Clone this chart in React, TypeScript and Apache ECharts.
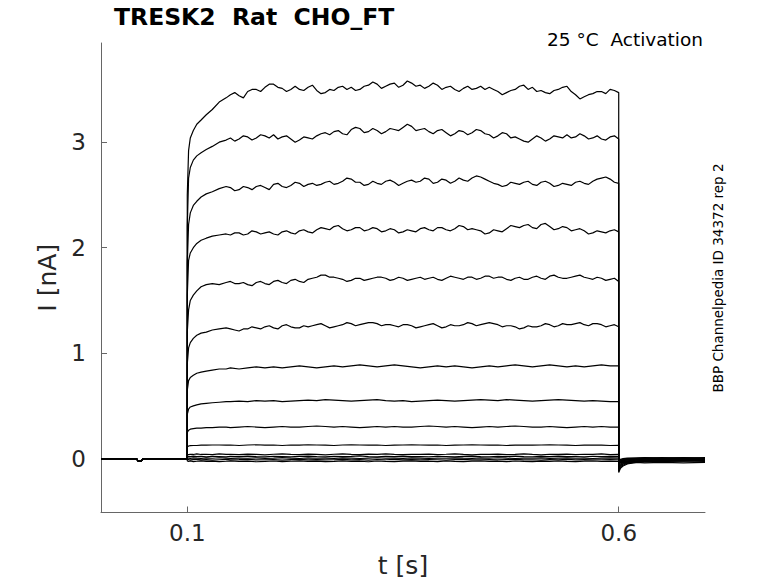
import React, { useEffect, useRef } from "react";
import * as echarts from "echarts";

const FONT = "DejaVu Sans";

// time grids [s]
const T_PRE = [0, 0.041, 0.043, 0.047, 0.049, 0.1];
const I_PRE = [0, 0, -0.02, -0.02, 0, 0];
const T_ON = [
  0.1, 0.1015, 0.1035, 0.107, 0.111, 0.116, 0.122, 0.129, 0.137, 0.145,
  0.15, 0.16, 0.17, 0.18, 0.19, 0.2, 0.21, 0.22, 0.23, 0.24,
  0.25, 0.26, 0.27, 0.28, 0.29, 0.3, 0.31, 0.32, 0.33, 0.34,
  0.35, 0.36, 0.37, 0.38, 0.39, 0.4, 0.41, 0.42, 0.43, 0.44,
  0.45, 0.46, 0.47, 0.48, 0.49, 0.5, 0.51, 0.52, 0.53, 0.54,
  0.55, 0.56, 0.57, 0.58, 0.59, 0.6,
];
// extra in-between samples for the noisier (larger) traces
const T_MID = [
  0.155, 0.165, 0.175, 0.185, 0.195, 0.205, 0.215, 0.225, 0.235, 0.245,
  0.255, 0.265, 0.275, 0.285, 0.295, 0.305, 0.315, 0.325, 0.335, 0.345,
  0.355, 0.365, 0.375, 0.385, 0.395, 0.405, 0.415, 0.425, 0.435, 0.445,
  0.455, 0.465, 0.475, 0.485, 0.495, 0.505, 0.515, 0.525, 0.535, 0.545,
  0.555, 0.565, 0.575, 0.585, 0.595,
];
const T_OFF = [0.6, 0.602, 0.605, 0.61, 0.62, 0.63, 0.65, 0.675, 0.7];

// currents [nA] during the step
const ON_1 = [
  2.5, 2.92, 3.04, 3.11, 3.17, 3.21, 3.26, 3.31, 3.38, 3.42,
  3.45, 3.44, 3.48, 3.5, 3.52, 3.55, 3.51, 3.5, 3.5, 3.52,
  3.49, 3.47, 3.49, 3.53, 3.52, 3.5, 3.54, 3.55, 3.53, 3.56,
  3.54, 3.56, 3.54, 3.53, 3.54, 3.52, 3.5, 3.51, 3.5, 3.53,
  3.52, 3.48, 3.47, 3.5, 3.54, 3.52, 3.49, 3.46, 3.5, 3.53,
  3.45, 3.43, 3.46, 3.48, 3.5, 3.47,
];
const MID_1 = [
  3.47, 3.42, 3.5, 3.48, 3.55, 3.52, 3.48, 3.53, 3.49, 3.54,
  3.46, 3.5, 3.52, 3.5, 3.49, 3.53, 3.57, 3.51, 3.55, 3.52,
  3.58, 3.53, 3.51, 3.56, 3.5, 3.53, 3.48, 3.53, 3.51, 3.5,
  3.5, 3.45, 3.49, 3.53, 3.5, 3.48, 3.47, 3.49, 3.52, 3.48,
  3.41, 3.45, 3.48, 3.46, 3.49,
];
const ON_2 = [
  2.2, 2.66, 2.76, 2.83, 2.87, 2.9, 2.93, 2.96, 3.0, 3.02,
  3.04, 3.03, 3.05, 3.04, 3.06, 3.07, 3.05, 3.03, 3.02, 3.04,
  3.06, 3.09, 3.1, 3.08, 3.12, 3.13, 3.1, 3.11, 3.1, 3.12,
  3.14, 3.15, 3.12, 3.1, 3.11, 3.09, 3.08, 3.1, 3.09, 3.11,
  3.07, 3.06, 3.08, 3.05, 3.01, 3.03, 3.04, 3.03, 3.05, 3.07,
  3.05, 3.06, 3.04, 3.03, 3.05, 3.03,
];
const MID_2 = [
  3.01, 3.06, 3.02, 3.07, 3.04, 3.03, 3.06, 3.0, 3.05, 3.03,
  3.08, 3.07, 3.11, 3.07, 3.14, 3.09, 3.13, 3.08, 3.13, 3.11,
  3.17, 3.11, 3.13, 3.08, 3.12, 3.06, 3.11, 3.07, 3.12, 3.08,
  3.04, 3.09, 3.04, 3.03, 3.0, 3.06, 3.01, 3.06, 3.04, 3.04,
  3.08, 3.03, 3.06, 3.02, 3.06,
];
const ON_3 = [
  1.85, 2.22, 2.33, 2.4, 2.44, 2.48, 2.51, 2.53, 2.56, 2.58,
  2.57, 2.55, 2.57, 2.58, 2.57, 2.6, 2.58, 2.59, 2.61, 2.6,
  2.59, 2.62, 2.6, 2.63, 2.65, 2.62, 2.6, 2.61, 2.63, 2.62,
  2.61, 2.64, 2.63, 2.65, 2.62, 2.64, 2.63, 2.64, 2.66, 2.67,
  2.63, 2.6, 2.59, 2.61, 2.62, 2.6, 2.62, 2.61, 2.59, 2.6,
  2.62, 2.61, 2.63, 2.66, 2.65, 2.61,
];
const MID_3 = [
  2.54, 2.58, 2.55, 2.59, 2.55, 2.61, 2.57, 2.62, 2.58, 2.61,
  2.6, 2.63, 2.61, 2.66, 2.62, 2.59, 2.63, 2.6, 2.64, 2.59,
  2.63, 2.62, 2.66, 2.61, 2.65, 2.61, 2.66, 2.63, 2.68, 2.65,
  2.61, 2.58, 2.62, 2.6, 2.63, 2.59, 2.63, 2.58, 2.61, 2.59,
  2.63, 2.6, 2.65, 2.67, 2.62,
];
const ON_4 = [
  1.55, 1.88, 1.95, 2.0, 2.04, 2.07, 2.09, 2.11, 2.12, 2.13,
  2.12, 2.14, 2.13, 2.15, 2.14, 2.13, 2.15, 2.14, 2.16, 2.15,
  2.17, 2.18, 2.2, 2.18, 2.17, 2.19, 2.17, 2.18, 2.16, 2.17,
  2.15, 2.16, 2.18, 2.17, 2.19, 2.17, 2.18, 2.2, 2.18, 2.16,
  2.14, 2.16, 2.18, 2.2, 2.21, 2.19, 2.22, 2.2, 2.18, 2.19,
  2.17, 2.16, 2.14, 2.15, 2.16, 2.15,
];
const MID_4 = [
  2.14, 2.12, 2.16, 2.13, 2.15, 2.12, 2.16, 2.13, 2.17, 2.14,
  2.19, 2.17, 2.21, 2.16, 2.19, 2.16, 2.19, 2.15, 2.18, 2.14,
  2.17, 2.15, 2.19, 2.16, 2.19, 2.16, 2.21, 2.17, 2.17, 2.13,
  2.17, 2.15, 2.21, 2.19, 2.22, 2.18, 2.23, 2.17, 2.2, 2.16,
  2.18, 2.13, 2.16, 2.14, 2.17,
];
const ON_5 = [
  1.2, 1.41, 1.5, 1.55, 1.59, 1.63, 1.65, 1.66, 1.65, 1.67,
  1.68, 1.66, 1.65, 1.67, 1.66, 1.68, 1.67, 1.69, 1.68, 1.7,
  1.72, 1.74, 1.72, 1.7, 1.69, 1.71, 1.7, 1.72, 1.71, 1.7,
  1.71, 1.7, 1.72, 1.71, 1.7, 1.71, 1.72, 1.7, 1.72, 1.71,
  1.73, 1.72, 1.7, 1.71, 1.7, 1.72, 1.71, 1.73, 1.72, 1.71,
  1.73, 1.72, 1.7, 1.71, 1.7, 1.68,
];
const MID_5 = [
  1.66, 1.67, 1.64, 1.68, 1.65, 1.69, 1.66, 1.7, 1.67, 1.71,
  1.74, 1.72, 1.71, 1.68, 1.71, 1.69, 1.71, 1.72, 1.69, 1.72,
  1.69, 1.71, 1.7, 1.72, 1.69, 1.73, 1.71, 1.72, 1.7, 1.73,
  1.71, 1.72, 1.69, 1.72, 1.7, 1.73, 1.7, 1.74, 1.71, 1.72,
  1.74, 1.71, 1.72, 1.69, 1.71,
];
const ON_6 = [
  0.9, 1.05, 1.1, 1.14, 1.17, 1.19, 1.2, 1.22, 1.23, 1.24,
  1.23, 1.21, 1.23, 1.24, 1.25, 1.24, 1.26, 1.25, 1.24, 1.25,
  1.27, 1.26, 1.25, 1.27, 1.28, 1.27, 1.29, 1.28, 1.27, 1.26,
  1.27, 1.26, 1.25, 1.27, 1.26, 1.25, 1.26, 1.27, 1.28, 1.27,
  1.29, 1.27, 1.26, 1.25, 1.24, 1.25, 1.26, 1.27, 1.26, 1.27,
  1.28, 1.27, 1.28, 1.27, 1.26, 1.25,
];
const MID_6 = [
  1.22, 1.23, 1.25, 1.23, 1.26, 1.23, 1.27, 1.24, 1.26, 1.26,
  1.28, 1.24, 1.26, 1.29, 1.26, 1.28, 1.29, 1.26, 1.27, 1.25,
  1.27, 1.24, 1.26, 1.28, 1.24, 1.27, 1.26, 1.29, 1.26, 1.28,
  1.28, 1.25, 1.26, 1.23, 1.26, 1.25, 1.28, 1.25, 1.28, 1.27,
  1.29, 1.26, 1.28, 1.25, 1.27,
];
const ON_7 = [
  0.65, 0.74, 0.77, 0.79, 0.81, 0.82, 0.83, 0.84, 0.85, 0.85,
  0.86, 0.85, 0.86, 0.87, 0.86, 0.87, 0.86, 0.87, 0.88, 0.87,
  0.86, 0.87, 0.88, 0.87, 0.88, 0.89, 0.88, 0.87, 0.88, 0.89,
  0.88, 0.87, 0.86, 0.87, 0.88, 0.87, 0.88, 0.87, 0.86, 0.87,
  0.88, 0.87, 0.88, 0.89, 0.88, 0.87, 0.88, 0.89, 0.88, 0.87,
  0.88, 0.87, 0.88, 0.89, 0.88, 0.88,
];
const ON_8 = [
  0.42, 0.47, 0.49, 0.5, 0.51, 0.52, 0.525, 0.53, 0.535, 0.54,
  0.54, 0.545, 0.54, 0.55, 0.545, 0.55, 0.54, 0.545, 0.55, 0.555,
  0.55, 0.56, 0.555, 0.55, 0.545, 0.55, 0.555, 0.56, 0.55, 0.545,
  0.55, 0.54, 0.545, 0.55, 0.555, 0.55, 0.545, 0.55, 0.555, 0.56,
  0.555, 0.55, 0.56, 0.555, 0.55, 0.545, 0.55, 0.555, 0.56, 0.555,
  0.55, 0.545, 0.55, 0.545, 0.54, 0.54,
];
const ON_9 = [
  0.25, 0.27, 0.28, 0.285, 0.29, 0.29, 0.295, 0.295, 0.3, 0.3,
  0.295, 0.3, 0.305, 0.3, 0.295, 0.3, 0.305, 0.3, 0.3, 0.305,
  0.31, 0.305, 0.3, 0.305, 0.3, 0.295, 0.3, 0.305, 0.3, 0.305,
  0.3, 0.3, 0.305, 0.31, 0.305, 0.3, 0.305, 0.3, 0.295, 0.3,
  0.305, 0.3, 0.305, 0.31, 0.305, 0.3, 0.3, 0.305, 0.3, 0.295,
  0.3, 0.305, 0.3, 0.305, 0.3, 0.3,
];
const ON_10 = [
  0.11, 0.12, 0.123, 0.125, 0.125, 0.128, 0.128, 0.13, 0.13, 0.128,
  0.13, 0.125, 0.13, 0.132, 0.128, 0.13, 0.125, 0.13, 0.128, 0.132,
  0.13, 0.128, 0.125, 0.13, 0.132, 0.13, 0.128, 0.13, 0.125, 0.128,
  0.13, 0.132, 0.13, 0.128, 0.13, 0.125, 0.128, 0.13, 0.132, 0.13,
  0.128, 0.13, 0.125, 0.128, 0.13, 0.128, 0.13, 0.132, 0.13, 0.128,
  0.125, 0.128, 0.13, 0.128, 0.125, 0.126,
];
const ON_11 = [
  0.035, 0.04, 0.042, 0.04, 0.045, 0.04, 0.042, 0.038, 0.045, 0.04,
  0.042, 0.038, 0.044, 0.04, 0.036, 0.042, 0.046, 0.04, 0.038, 0.043,
  0.04, 0.037, 0.042, 0.045, 0.04, 0.038, 0.043, 0.04, 0.046, 0.041,
  0.038, 0.042, 0.04, 0.044, 0.039, 0.042, 0.046, 0.04, 0.037, 0.042,
  0.04, 0.044, 0.038, 0.041, 0.045, 0.04, 0.037, 0.042, 0.04, 0.044,
  0.039, 0.042, 0.04, 0.045, 0.038, 0.04,
];
const ON_12 = [
  0.018, 0.022, 0.02, 0.024, 0.019, 0.022, 0.018, 0.023, 0.02, 0.017,
  0.022, 0.019, 0.024, 0.02, 0.018, 0.023, 0.021, 0.017, 0.022, 0.025,
  0.02, 0.018, 0.023, 0.019, 0.022, 0.026, 0.02, 0.017, 0.022, 0.02,
  0.024, 0.019, 0.021, 0.018, 0.023, 0.02, 0.017, 0.022, 0.025, 0.02,
  0.018, 0.022, 0.019, 0.024, 0.02, 0.017, 0.022, 0.02, 0.024, 0.019,
  0.021, 0.018, 0.023, 0.02, 0.022, 0.02,
];
const ON_13 = [
  0.004, 0.006, 0.003, 0.008, 0.005, 0.002, 0.007, 0.004, 0.009, 0.005,
  0.002, 0.006, 0.004, 0.008, 0.003, 0.006, 0.01, 0.005, 0.002, 0.007,
  0.004, 0.006, 0.003, 0.008, 0.005, 0.002, 0.006, 0.009, 0.004, 0.006,
  0.003, 0.007, 0.005, 0.002, 0.006, 0.004, 0.008, 0.005, 0.003, 0.007,
  0.004, 0.009, 0.005, 0.002, 0.006, 0.004, 0.007, 0.003, 0.006, 0.008,
  0.004, 0.006, 0.002, 0.005, 0.007, 0.005,
];
const ON_14 = [
  -0.01, -0.008, -0.012, -0.009, -0.006, -0.011, -0.008, -0.013, -0.01, -0.007,
  -0.011, -0.009, -0.006, -0.012, -0.01, -0.008, -0.013, -0.009, -0.006, -0.011,
  -0.008, -0.012, -0.01, -0.007, -0.011, -0.009, -0.013, -0.008, -0.01, -0.006,
  -0.011, -0.009, -0.012, -0.008, -0.01, -0.013, -0.009, -0.007, -0.011, -0.01,
  -0.008, -0.012, -0.009, -0.006, -0.011, -0.01, -0.013, -0.008, -0.01, -0.007,
  -0.011, -0.009, -0.012, -0.01, -0.008, -0.01,
];
const ON_15 = [
  -0.022, -0.025, -0.021, -0.027, -0.024, -0.02, -0.026, -0.023, -0.028, -0.024,
  -0.021, -0.026, -0.023, -0.029, -0.025, -0.022, -0.027, -0.024, -0.02, -0.026,
  -0.023, -0.028, -0.025, -0.021, -0.026, -0.024, -0.029, -0.022, -0.025, -0.027,
  -0.023, -0.02, -0.026, -0.024, -0.028, -0.022, -0.025, -0.027, -0.023, -0.021,
  -0.026, -0.024, -0.028, -0.022, -0.025, -0.027, -0.023, -0.026, -0.021, -0.025,
  -0.028, -0.024, -0.022, -0.026, -0.024, -0.025,
];

// currents [nA] after the step (tail)
const OFF_1 = [-0.13, -0.09, -0.07, -0.05, -0.035, -0.03, -0.025, -0.02, -0.02];
const OFF_2 = [-0.12, -0.08, -0.06, -0.045, -0.03, -0.025, -0.02, -0.02, -0.015];
const OFF_3 = [-0.1, -0.07, -0.05, -0.04, -0.025, -0.02, -0.02, -0.015, -0.015];
const OFF_4 = [-0.08, -0.06, -0.045, -0.03, -0.02, -0.015, -0.015, -0.01, -0.01];
const OFF_5 = [-0.07, -0.05, -0.035, -0.025, -0.015, -0.01, -0.01, -0.01, -0.005];
const OFF_6 = [-0.05, -0.035, -0.025, -0.02, -0.01, -0.005, -0.005, 0, 0];
const OFF_7 = [-0.04, -0.03, -0.02, -0.01, -0.005, 0, 0, 0, 0];
const OFF_8 = [-0.03, -0.02, -0.015, -0.01, 0, 0, 0, 0.005, 0];
const OFF_9 = [-0.02, -0.01, -0.01, 0, 0, 0.005, 0, 0, 0];
const OFF_10 = [-0.015, -0.01, -0.005, 0, 0.005, 0.005, 0.01, 0.005, 0.01];
const OFF_11 = [-0.01, -0.005, 0, 0.005, 0.005, 0.01, 0.005, 0.01, 0.005];
const OFF_12 = [-0.015, -0.01, -0.01, -0.005, 0, 0, -0.005, 0, 0];
const OFF_13 = [-0.02, -0.02, -0.015, -0.015, -0.01, -0.015, -0.01, -0.015, -0.01];
const OFF_14 = [-0.03, -0.03, -0.025, -0.03, -0.025, -0.02, -0.025, -0.02, -0.025];
const OFF_15 = [-0.04, -0.04, -0.035, -0.04, -0.035, -0.04, -0.035, -0.04, -0.035];

const TRACES_ON = [ON_1, ON_2, ON_3, ON_4, ON_5, ON_6, ON_7, ON_8, ON_9, ON_10, ON_11, ON_12, ON_13, ON_14, ON_15];
const TRACES_MID = [MID_1, MID_2, MID_3, MID_4, MID_5, MID_6];
const TRACES_OFF = [OFF_1, OFF_2, OFF_3, OFF_4, OFF_5, OFF_6, OFF_7, OFF_8, OFF_9, OFF_10, OFF_11, OFF_12, OFF_13, OFF_14, OFF_15];

const X_TICKS = [0.1, 0.6];
const Y_TICKS = [0, 1, 2, 3];

const TITLE = "TRESK2  Rat  CHO_FT";
const SUBTITLE = "25 °C  Activation";
const SIDE_NOTE = "BBP Channelpedia ID 34372 rep 2";

export default function App() {
  const ref = useRef<HTMLDivElement>(null);

  useEffect(() => {
    if (!ref.current) return;
    const chart = echarts.init(ref.current, undefined, { renderer: "svg" });

    const series = TRACES_ON.map((on, k) => {
      const off = TRACES_OFF[k];
      const mid = TRACES_MID[k];
      const stepPts: number[][] = T_ON.map((t, i) => [t, on[i]]);
      if (mid) {
        T_MID.forEach((t, i) => stepPts.push([t, mid[i]]));
        stepPts.sort((a, b) => a[0] - b[0]);
      }
      const data: number[][] = [
        ...T_PRE.map((t, i) => [t, I_PRE[i]]),
        ...stepPts,
        ...T_OFF.map((t, i) => [t, off[i]]),
      ];
      return {
        type: "line",
        data,
        showSymbol: false,
        symbol: "none",
        silent: true,
        lineStyle: { color: "#000", width: 1.2 },
      };
    });

    const axisColor = "#666";
    const textColor = "#262626";

    chart.setOption({
      animation: false,
      textStyle: { fontFamily: FONT },
      title: [
        {
          text: TITLE,
          left: 114,
          top: 5,
          padding: 0,
          textStyle: { fontFamily: FONT, fontSize: 23.5, fontWeight: "bold", color: "#000" },
        },
        {
          text: SUBTITLE,
          right: 75,
          top: 30,
          padding: 0,
          textStyle: { fontFamily: FONT, fontSize: 18.5, fontWeight: "normal", color: "#000" },
        },
      ],
      grid: { left: 101, right: 73, top: 43, bottom: 70.5, containLabel: false, outerBoundsMode: "none" },
      xAxis: {
        type: "value",
        min: 0,
        max: 0.7,
        name: "t [s]",
        nameLocation: "middle",
        nameGap: 40,
        nameTextStyle: { fontFamily: FONT, fontSize: 25, color: textColor },
        axisLine: { show: true, onZero: false, lineStyle: { color: axisColor, width: 1 } },
        axisTick: { show: true, inside: true, length: 6, customValues: X_TICKS, lineStyle: { color: axisColor } },
        axisLabel: {
          customValues: X_TICKS,
          formatter: (v: number) => String(v),
          fontFamily: FONT,
          fontSize: 23,
          color: textColor,
          margin: 9,
        },
        splitLine: { show: false },
      },
      yAxis: {
        type: "value",
        min: -0.51,
        max: 3.94,
        name: "I [nA]",
        nameLocation: "middle",
        nameGap: 37,
        nameRotate: 90,
        nameTextStyle: { fontFamily: FONT, fontSize: 25, color: textColor },
        axisLine: { show: true, onZero: false, lineStyle: { color: axisColor, width: 1 } },
        axisTick: { show: true, inside: true, length: 6, customValues: Y_TICKS, lineStyle: { color: axisColor } },
        axisLabel: {
          customValues: Y_TICKS,
          formatter: (v: number) => String(v),
          fontFamily: FONT,
          fontSize: 23,
          color: textColor,
          margin: 15,
        },
        splitLine: { show: false },
      },
      graphic: [
        {
          type: "text",
          x: 718,
          y: 278,
          rotation: Math.PI / 2,
          style: {
            text: SIDE_NOTE,
            fontFamily: FONT,
            fontSize: 13.5,
            fill: "#000",
            textAlign: "center",
            textVerticalAlign: "middle",
          },
        },
      ],
      series,
    });

    return () => chart.dispose();
  }, []);

  return (
    <div
      ref={ref}
      style={{ position: "fixed", left: 0, top: 0, width: 778, height: 583, background: "#fff" }}
    />
  );
}
